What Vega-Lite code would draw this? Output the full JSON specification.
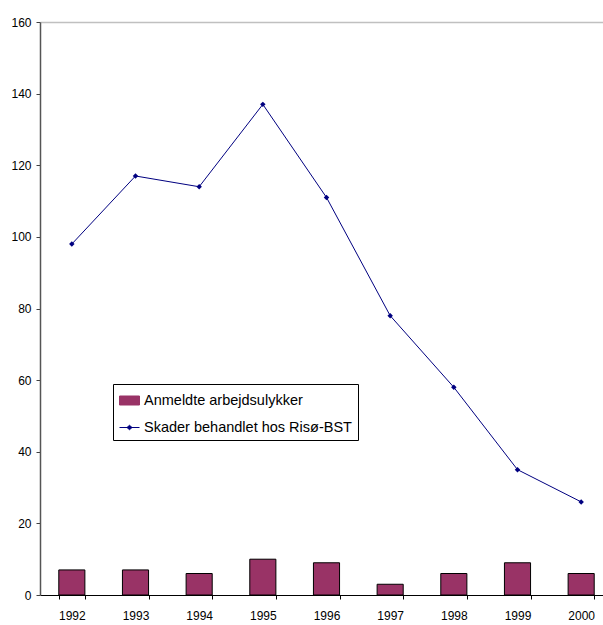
{
  "$schema": "https://vega.github.io/schema/vega-lite/v6.json",
  "autosize": {"type": "none"},
  "padding": {"left": 40, "top": 22, "right": 0, "bottom": 30},
  "width": 563,
  "height": 573,
  "background": "white",
  "config": {
    "view": {"stroke": null},
    "font": "Liberation Sans",
    "axis": {"labelFont": "Liberation Sans", "labelColor": "black", "labelFontSize": 12}
  },
  "data": {
    "values": [
      {"year": "1992", "series": "Anmeldte arbejdsulykker", "value": 7},
      {"year": "1993", "series": "Anmeldte arbejdsulykker", "value": 7},
      {"year": "1994", "series": "Anmeldte arbejdsulykker", "value": 6},
      {"year": "1995", "series": "Anmeldte arbejdsulykker", "value": 10},
      {"year": "1996", "series": "Anmeldte arbejdsulykker", "value": 9},
      {"year": "1997", "series": "Anmeldte arbejdsulykker", "value": 3},
      {"year": "1998", "series": "Anmeldte arbejdsulykker", "value": 6},
      {"year": "1999", "series": "Anmeldte arbejdsulykker", "value": 9},
      {"year": "2000", "series": "Anmeldte arbejdsulykker", "value": 6},
      {"year": "1992", "series": "Skader behandlet hos Risø-BST", "value": 98},
      {"year": "1993", "series": "Skader behandlet hos Risø-BST", "value": 117},
      {"year": "1994", "series": "Skader behandlet hos Risø-BST", "value": 114},
      {"year": "1995", "series": "Skader behandlet hos Risø-BST", "value": 137},
      {"year": "1996", "series": "Skader behandlet hos Risø-BST", "value": 111},
      {"year": "1997", "series": "Skader behandlet hos Risø-BST", "value": 78},
      {"year": "1998", "series": "Skader behandlet hos Risø-BST", "value": 58},
      {"year": "1999", "series": "Skader behandlet hos Risø-BST", "value": 35},
      {"year": "2000", "series": "Skader behandlet hos Risø-BST", "value": 26}
    ]
  },
  "encoding": {
    "x": {
      "field": "year",
      "type": "ordinal",
      "scale": {"range": [0, 573], "paddingInner": 0.59, "paddingOuter": 0.295},
      "axis": {
        "title": null,
        "labelAngle": 0,
        "tickBand": "extent",
        "tickSize": 4,
        "tickColor": "black",
        "domainColor": "black",
        "domainWidth": 1,
        "labelPadding": 11
      }
    },
    "y": {
      "field": "value",
      "type": "quantitative",
      "scale": {"domain": [0, 160], "nice": false},
      "axis": {
        "title": null,
        "values": [0, 20, 40, 60, 80, 100, 120, 140, 160],
        "tickSize": 4,
        "tickColor": "#404040",
        "domainColor": "#555555",
        "domainWidth": 1.5,
        "labelPadding": 5,
        "grid": true,
        "gridColor": "#c0c0c0",
        "gridWidth": 1.5,
        "gridOpacity": {"condition": {"test": "datum.value === 160", "value": 1}, "value": 0}
      }
    },
    "color": {
      "field": "series",
      "type": "nominal",
      "scale": {
        "domain": ["Anmeldte arbejdsulykker", "Skader behandlet hos Risø-BST"],
        "range": ["#993366", "#000080"]
      },
      "legend": {
        "title": null,
        "orient": "none",
        "legendX": 73,
        "legendY": 362,
        "direction": "vertical",
        "padding": 6,
        "strokeColor": "black",
        "fillColor": "white",
        "labelFont": "Liberation Sans",
        "labelFontSize": 14.5,
        "labelColor": "black",
        "labelLimit": 0,
        "labelOffset": 4,
        "symbolSize": 400,
        "symbolStrokeWidth": 1,
        "rowPadding": 10,
        "encode": {
          "symbols": {
            "update": {
              "shape": {"signal": "datum.value === 'Anmeldte arbejdsulykker' ? 'M-1,-0.45H1V0.45H-1Z' : 'M-1,0H1M-0.25,0L0,-0.22L0.25,0L0,0.22Z'"},
              "fill": {"signal": "datum.value === 'Anmeldte arbejdsulykker' ? '#993366' : '#000080'"},
              "stroke": {"signal": "datum.value === 'Anmeldte arbejdsulykker' ? 'black' : '#000080'"},
              "opacity": {"value": 1},
              "fillOpacity": {"value": 1}
            }
          }
        }
      }
    }
  },
  "layer": [
    {
      "transform": [{"filter": "datum.series === 'Anmeldte arbejdsulykker'"}],
      "mark": {"type": "bar", "stroke": "black", "strokeWidth": 1, "opacity": 1}
    },
    {
      "transform": [{"filter": "datum.series === 'Skader behandlet hos Risø-BST'"}],
      "mark": {
        "type": "line",
        "strokeWidth": 1,
        "point": {"shape": "diamond", "size": 30, "filled": true, "color": "#000080", "opacity": 1}
      }
    }
  ]
}
